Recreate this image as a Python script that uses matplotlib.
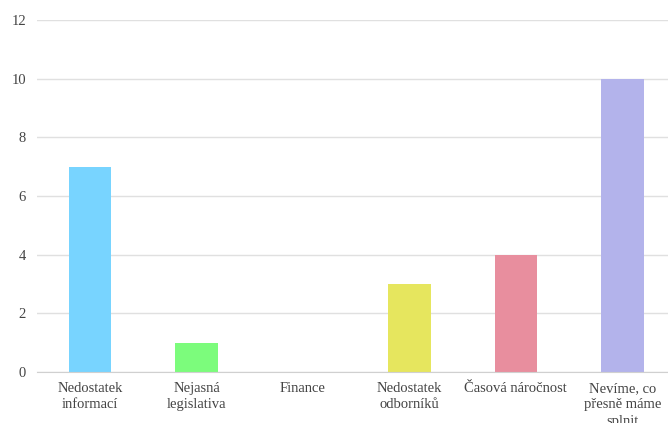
import matplotlib
matplotlib.use("Agg")
import matplotlib.pyplot as plt

categories = ["Nedostatek\ninformací", "Nejasná\nlegislativa", "Finance",
              "Nedostatek\nodborníků", "Časová náročnost", "Nevíme, co\npřesně máme\nsplnit"]
values = [7, 1, 0, 3, 4, 10]
colors = ["#78D4FF", "#7CFC7C", "#C0C0C0", "#E6E65E", "#E88E9E", "#B3B3EB"]
yticks = [0, 2, 4, 6, 8, 10, 12]

plt.rcParams['font.family'] = ['Liberation Serif', 'DejaVu Serif']
fig = plt.figure(figsize=(6.68, 4.23), dpi=100)
ax = fig.add_axes([37/668, 1 - 372/423, 631/668, 352/423])
ax.bar(range(len(categories)), values, width=0.4, color=colors, zorder=2)
ax.set_xlim(-0.5, 5.43)
ax.set_ylim(0, 12)
ax.set_yticks(yticks)
ax.set_xticks(range(len(categories)))
ax.set_xticklabels(categories, fontsize=10.5, color="#444444", linespacing=1.35, va="top")
ax.tick_params(axis='y', labelsize=10.5, labelcolor="#444444", length=0, pad=8)
ax.tick_params(axis='x', length=0, pad=7)
ax.grid(axis='y', color="#E0E0E0", linewidth=1, zorder=0)
for s in ["top", "right", "left"]:
    ax.spines[s].set_visible(False)
ax.spines["bottom"].set_color("#D0D0D0")
fig.savefig("out.png", dpi=100)
